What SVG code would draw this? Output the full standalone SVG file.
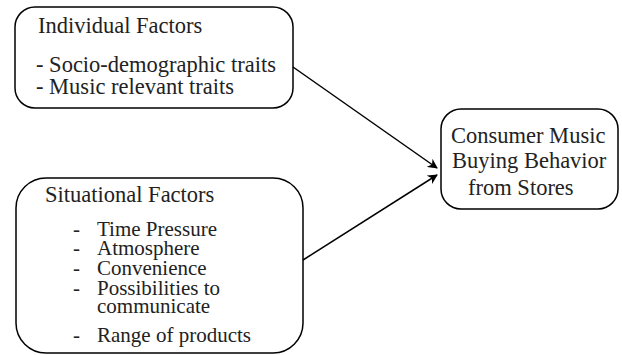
<svg xmlns="http://www.w3.org/2000/svg" width="622" height="355" viewBox="0 0 622 355">
<defs>
<marker id="ah" markerWidth="10" markerHeight="10" refX="9" refY="5" orient="auto" markerUnits="userSpaceOnUse">
<path d="M0,0 L10,5 L0,10 L3,5 z" fill="#000"/>
</marker>
</defs>
<style>
.box{fill:#fff;stroke:#000;stroke-width:1.5}
.edge{stroke:#000;stroke-width:1.5;fill:none;marker-end:url(#ah)}
.t{font-family:"Liberation Serif","Times New Roman",Times,Tinos,"Nimbus Roman","Noto Serif","DejaVu Serif",serif;font-size:22.5px;fill:#222}
.s{font-size:21px}
</style>
<rect width="622" height="355" fill="#fff"/>
<g id="individual">
<rect class="box" x="15" y="7" width="278" height="101" rx="20" ry="20"/>
<text class="t" x="38" y="33">Individual Factors</text>
<text class="t" x="36" y="72">- Socio-demographic traits</text>
<text class="t" x="36" y="94">- Music relevant traits</text>
</g>
<g id="situational">
<rect class="box" x="16" y="178" width="287" height="175" rx="30" ry="30"/>
<text class="t" x="45" y="202">Situational Factors</text>
<text class="t s" x="73" y="236">-</text><text class="t s" x="97" y="236">Time Pressure</text>
<text class="t s" x="73" y="255">-</text><text class="t s" x="97" y="255">Atmosphere</text>
<text class="t s" x="73" y="275">-</text><text class="t s" x="97" y="275">Convenience</text>
<text class="t s" x="73" y="295">-</text><text class="t s" x="97" y="295">Possibilities to</text>
<text class="t s" x="97" y="313">communicate</text>
<text class="t s" x="73" y="342">-</text><text class="t s" x="97" y="342">Range of products</text>
</g>
<g id="consumer">
<rect class="box" x="441" y="109" width="177" height="100" rx="20" ry="20"/>
<text class="t" x="451" y="143">Consumer Music</text>
<text class="t" x="452" y="168">Buying Behavior</text>
<text class="t" x="468" y="195">from Stores</text>
</g>
<g id="connectors">
<line class="edge" x1="293" y1="67" x2="437" y2="168"/>
<line class="edge" x1="303" y1="260" x2="437" y2="175"/>
</g>
</svg>
